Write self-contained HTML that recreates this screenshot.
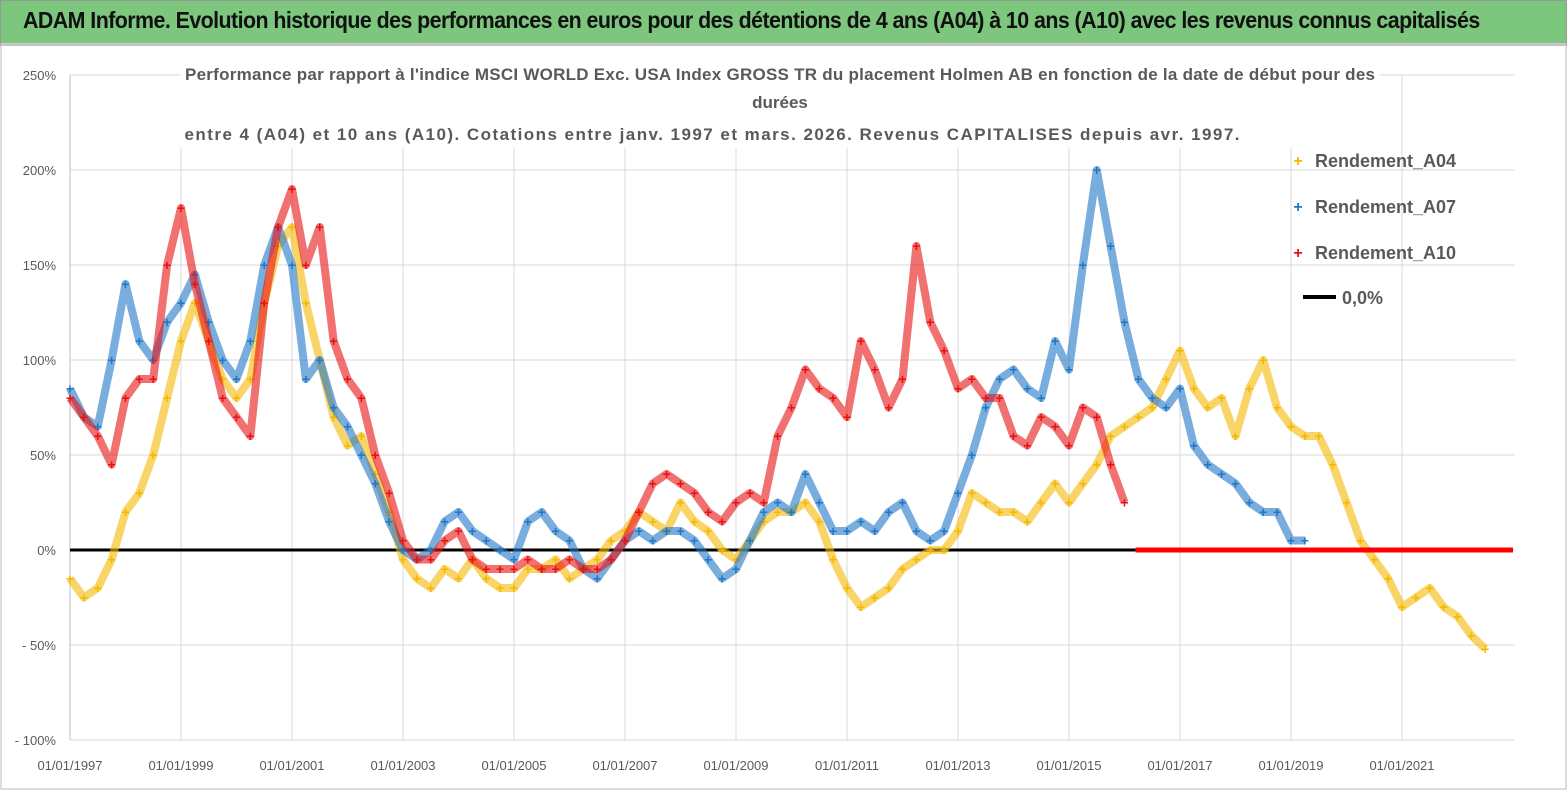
<!DOCTYPE html>
<html><head><meta charset="utf-8"><style>
body{margin:0;width:1567px;height:790px;background:#fff;font-family:"Liberation Sans",sans-serif;overflow:hidden}
#tb{position:absolute;left:0;top:0;width:1565px;height:42px;background:#7cc67d;border:1px solid #999;border-bottom:3px solid #ccc}
#tb span{position:absolute;left:22px;top:6px;font-size:23px;font-weight:bold;color:#111;letter-spacing:-0.6px;white-space:nowrap;transform:scaleX(0.93);transform-origin:left}
svg{position:absolute;left:0;top:0}
</style></head><body>
<div id="tb"><span>ADAM Informe. Evolution historique des performances en euros pour des détentions de 4 ans (A04) à 10 ans (A10) avec les revenus connus capitalisés</span></div>
<svg id="c" width="1567" height="790"></svg>
<script>
const yTicks=[250,200,150,100,50,0,-50,-100];
const yTickLabels=["250%","200%","150%","100%","50%","0%","- 50%","- 100%"];
const xTickYears=[1997,1999,2001,2003,2005,2007,2009,2011,2013,2015,2017,2019,2021];
const a04Start=1997, a07Start=1997, a10Start=1997, step=0.25;
const a04=[-15,-25,-20,-5,20,30,50,80,110,130,110,90,80,90,130,160,170,130,100,70,55,60,40,20,-5,-15,-20,-10,-15,-5,-15,-20,-20,-10,-10,-5,-15,-10,-5,5,10,20,15,10,25,15,10,0,-5,5,15,20,20,25,15,-5,-20,-30,-25,-20,-10,-5,0,0,10,30,25,20,20,15,25,35,25,35,45,60,65,70,75,90,105,85,75,80,60,85,100,75,65,60,60,45,25,5,-5,-15,-30,-25,-20,-30,-35,-45,-52];
const a07=[85,70,65,100,140,110,100,120,130,145,120,100,90,110,150,170,150,90,100,75,65,50,35,15,0,-5,0,15,20,10,5,0,-5,15,20,10,5,-10,-15,-5,5,10,5,10,10,5,-5,-15,-10,5,20,25,20,40,25,10,10,15,10,20,25,10,5,10,30,50,75,90,95,85,80,110,95,150,200,160,120,90,80,75,85,55,45,40,35,25,20,20,5,5];
const a10=[80,70,60,45,80,90,90,150,180,140,110,80,70,60,130,170,190,150,170,110,90,80,50,30,5,-5,-5,5,10,-5,-10,-10,-10,-5,-10,-10,-5,-10,-10,-5,5,20,35,40,35,30,20,15,25,30,25,60,75,95,85,80,70,110,95,75,90,160,120,105,85,90,80,80,60,55,70,65,55,75,70,45,25];
const zeroRedStart=2016.2, zeroRedEnd=2023.0, zeroBlackEnd=2016.2;
const NS='http://www.w3.org/2000/svg';
const svg=document.getElementById('c');
const X=t=>70+(t-1997)*55.5;
const Y=v=>550-v*1.9;
function mk(tag,at,parent){const e=document.createElementNS(NS,tag);for(const k in at)e.setAttribute(k,at[k]);(parent||svg).appendChild(e);return e;}
const fr=mk('rect',{x:1,y:45,width:1565,height:744,fill:'none',stroke:'#bbb'});


yTicks.forEach((v,i)=>{
 const l=mk('line',{x1:70,x2:1515,y1:Y(v),y2:Y(v),stroke:'#d9d9d9'});
 
 
 const t=mk('text',{x:56,y:Y(v)+5,'text-anchor':'end','font-size':13,fill:'#595959'});t.textContent=yTickLabels[i];
 
 
});
xTickYears.forEach(yr=>{
 const l=mk('line',{x1:X(yr),x2:X(yr),y1:Y(250),y2:Y(-100),stroke:'#d9d9d9'});
 
 
 const t=mk('text',{x:X(yr),y:770,'text-anchor':'middle','font-size':13,fill:'#595959'});t.textContent='01/01/'+yr;
 
 
});
const ax=mk('line',{x1:70,x2:70,y1:Y(250),y2:Y(-100),stroke:'#bfbfbf'});


const sub=[["Performance par rapport à l'indice MSCI WORLD Exc. USA Index GROSS TR  du placement Holmen AB en fonction de la date de début pour des",80,1190],["durées",108,0],["entre 4 (A04) et 10 ans (A10). Cotations entre janv. 1997 et mars. 2026. Revenus CAPITALISES depuis avr. 1997.",140,1055]];
mk('rect',{x:180,y:62,width:1200,height:86,fill:'#fff'});
sub.forEach(s=>{const at={x:s[2]===1055?712:780,y:s[1],'text-anchor':'middle','font-size':17,'font-weight':'bold',fill:'#595959'};if(s[2])at.textLength=s[2];const t=mk('text',at);t.textContent=s[0];
 
 });
const zb=mk('line',{x1:X(1997),x2:X(zeroBlackEnd),y1:Y(0),y2:Y(0),stroke:'#000','stroke-width':3});


function series(vals,start,color,name){
 const g=mk('g',{});
 
 
 const pts=vals.map((v,i)=>X(start+i*step)+','+Y(v)).join(' ');
 mk('polyline',{points:pts,fill:'none',stroke:color,'stroke-width':8,'stroke-opacity':0.6,'stroke-linejoin':'round'},g);
 vals.forEach((v,i)=>{
  const t=mk('text',{x:X(start+i*step),y:Y(v)+5,'text-anchor':'middle','font-size':14,'font-weight':'bold',fill:color},g);t.textContent='+';
  
  
 });
}
series(a04,a04Start,'#f5b800','series-a04');
series(a07,a07Start,'#1f77c8','series-a07');
series(a10,a10Start,'#e81010','series-a10');
const zr=mk('line',{x1:X(zeroRedStart),x2:X(zeroRedEnd),y1:Y(0),y2:Y(0),stroke:'#f00','stroke-width':5});


[["Rendement_A04",'#f5b800',160],["Rendement_A07",'#1f77c8',206],["Rendement_A10",'#e81010',252]].forEach(l=>{
 const m=mk('text',{x:1298,y:l[2]+6,'text-anchor':'middle','font-size':16,'font-weight':'bold',fill:l[1]});m.textContent='+';
 
 
 const t=mk('text',{x:1315,y:l[2]+7,'font-size':18,'font-weight':'bold',fill:'#595959'});t.textContent=l[0];
 
 
});
const ll=mk('line',{x1:1303,x2:1336,y1:297,y2:297,stroke:'#000','stroke-width':4});


const lt=mk('text',{x:1342,y:304,'font-size':18,'font-weight':'bold',fill:'#595959'});lt.textContent='0,0%';


</script>
</body></html>
